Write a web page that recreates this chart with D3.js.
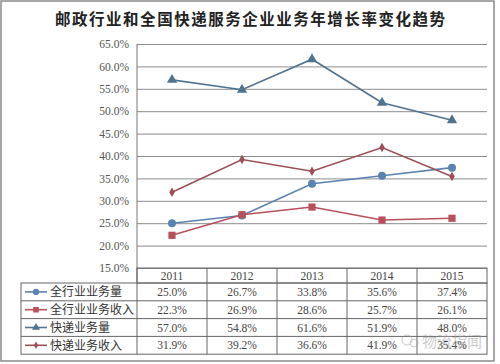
<!DOCTYPE html>
<html>
<head>
<meta charset="utf-8">
<script src="https://cdn.jsdelivr.net/npm/d3@7"></script>
<style>
  body { margin: 0; background: #fff; }
  svg text { font-family: "Liberation Serif", "Noto Sans CJK SC", serif; }
</style>
</head>
<body>
<div id="chart-area"></div>
<script>
// data
var years = ["2011", "2012", "2013", "2014", "2015"];
var seriesNames = ["全行业业务量", "全行业业务收入", "快递业务量", "快递业务收入"];
var totalVolume = [25.0, 26.7, 33.8, 35.6, 37.4];
var totalRevenue = [22.3, 26.9, 28.6, 25.7, 26.1];
var expressVolume = [57.0, 54.8, 61.6, 51.9, 48.0];
var expressRevenue = [31.9, 39.2, 36.6, 41.9, 35.4];
var yTicks = [15, 20, 25, 30, 35, 40, 45, 50, 55, 60, 65];

var seriesValues = [totalVolume, totalRevenue, expressVolume, expressRevenue];
var colors = ["#5a83b0", "#b8505c", "#4f7390", "#9e4e56"];
var shapes = [d3.symbolCircle, d3.symbolSquare, d3.symbolTriangle, d3.symbolDiamond];
var sizes = [50, 52, 46, 26];

var W = 500, H = 364;
var plot = { left: 137, right: 487, top: 44, bottom: 268 };
var table = { left: 21, headerH: 15, rowH: 17.8 };

var svg = d3.select("#chart-area").append("svg")
  .attr("width", W).attr("height", H);

// outer frame
svg.append("rect")
  .attr("x", 1).attr("y", 1)
  .attr("width", 493).attr("height", 360)
  .attr("fill", "#fff")
  .attr("stroke", "#8a8a8a")
  .attr("stroke-width", 1.5);

// title
svg.append("text")
  .attr("x", 250).attr("y", 25)
  .attr("text-anchor", "middle")
  .style("font-family", "'Noto Sans CJK SC', sans-serif")
  .attr("font-size", "15.5px")
  .attr("font-weight", "bold")
  .attr("textLength", 390)
  .attr("lengthAdjust", "spacing")
  .attr("fill", "#222")
  .text("邮政行业和全国快递服务企业业务年增长率变化趋势");

// scales
var xBand = d3.scaleBand().domain(years).range([plot.left, plot.right]);
var x = function(d) { return xBand(d) + xBand.bandwidth() / 2; };
var y = d3.scaleLinear().domain([15, 65]).range([plot.bottom, plot.top]);

// gridlines + y labels
var yAxisCall = d3.axisLeft(y)
  .tickValues(yTicks)
  .tickSize(-(plot.right - plot.left))
  .tickPadding(8)
  .tickFormat(function(d) { return d3.format(".1f")(d) + "%"; });

var yAxis = svg.append("g")
  .attr("transform", "translate(" + plot.left + ",0)")
  .call(yAxisCall);
yAxis.select(".domain").remove();
yAxis.selectAll(".tick line").attr("stroke", "#8c8c8c").attr("stroke-width", 1);
yAxis.selectAll(".tick text")
  .attr("fill", "#555")
  .attr("font-size", "11.5px")
  .style("font-family", "'Liberation Serif', serif");

// left axis line
svg.append("line")
  .attr("x1", plot.left).attr("x2", plot.left)
  .attr("y1", plot.top).attr("y2", plot.bottom)
  .attr("stroke", "#777");

// lines + markers
var line = d3.line()
  .x(function(d, i) { return x(years[i]); })
  .y(function(d) { return y(d); });

seriesValues.forEach(function(vals, k) {
  svg.append("path")
    .attr("d", line(vals))
    .attr("fill", "none")
    .attr("stroke", colors[k])
    .attr("stroke-width", 1.6);
  svg.selectAll(".m" + k)
    .data(vals)
    .enter().append("path")
    .attr("class", "m" + k)
    .attr("transform", function(d, i) {
      return "translate(" + x(years[i]) + "," + y(d) + ")";
    })
    .attr("d", d3.symbol().type(shapes[k]).size(sizes[k]))
    .attr("fill", colors[k]);
});

// data table
var gridColor = "#666";
var headerTop = plot.bottom;
var rowsTop = headerTop + table.headerH;
var tableBottom = rowsTop + table.rowH * seriesNames.length;

// header cells
svg.append("rect")
  .attr("x", plot.left).attr("y", headerTop)
  .attr("width", plot.right - plot.left).attr("height", table.headerH)
  .attr("fill", "none").attr("stroke", gridColor);
svg.selectAll(".yr")
  .data(years)
  .enter().append("text")
  .attr("x", function(d) { return x(d); })
  .attr("y", headerTop + 12)
  .attr("text-anchor", "middle")
  .attr("font-size", "11.5px")
  .attr("fill", "#444")
  .text(function(d) { return d; });

// body rows
svg.append("rect")
  .attr("x", table.left).attr("y", rowsTop)
  .attr("width", plot.right - table.left).attr("height", tableBottom - rowsTop)
  .attr("fill", "none").attr("stroke", gridColor);

seriesNames.forEach(function(name, k) {
  var ry = rowsTop + table.rowH * k;
  if (k > 0) {
    svg.append("line")
      .attr("x1", table.left).attr("x2", plot.right)
      .attr("y1", ry).attr("y2", ry)
      .attr("stroke", gridColor);
  }
  var cy = ry + table.rowH / 2;
  // legend key
  svg.append("line")
    .attr("x1", 25).attr("x2", 47)
    .attr("y1", cy).attr("y2", cy)
    .attr("stroke", colors[k]).attr("stroke-width", 1.6);
  svg.append("path")
    .attr("transform", "translate(36," + cy + ")")
    .attr("d", d3.symbol().type(shapes[k]).size(sizes[k] * 0.6))
    .attr("fill", colors[k]);
  svg.append("text")
    .attr("x", 50).attr("y", cy + 4.5)
    .style("font-family", "'Noto Sans CJK SC', sans-serif")
    .attr("font-size", "12px")
    .attr("fill", "#333")
    .text(name);
  // values
  svg.selectAll(".v" + k)
    .data(seriesValues[k])
    .enter().append("text")
    .attr("class", "v" + k)
    .attr("x", function(d, i) { return x(years[i]); })
    .attr("y", cy + 4)
    .attr("text-anchor", "middle")
    .attr("font-size", "11.5px")
    .attr("fill", "#444")
    .text(function(d) { return d3.format(".1f")(d) + "%"; });
});

// vertical separators
svg.append("line")
  .attr("x1", plot.left).attr("x2", plot.left)
  .attr("y1", headerTop).attr("y2", tableBottom)
  .attr("stroke", gridColor);
years.slice(1).forEach(function(yr) {
  svg.append("line")
    .attr("x1", xBand(yr)).attr("x2", xBand(yr))
    .attr("y1", headerTop).attr("y2", tableBottom)
    .attr("stroke", gridColor);
});

// watermark (faint, drawn over the table like in the source image)
var wm = svg.append("g").attr("opacity", 0.5);
wm.append("circle").attr("cx", 407).attr("cy", 340).attr("r", 5)
  .attr("fill", "none").attr("stroke", "#999");
wm.append("circle").attr("cx", 414).attr("cy", 343).attr("r", 4)
  .attr("fill", "none").attr("stroke", "#999");
wm.append("text")
  .attr("x", 422).attr("y", 347)
  .style("font-family", "'Noto Sans CJK SC', sans-serif")
  .attr("font-size", "15px")
  .attr("fill", "#999")
  .text("物流指闻");
</script>
</body>
</html>
